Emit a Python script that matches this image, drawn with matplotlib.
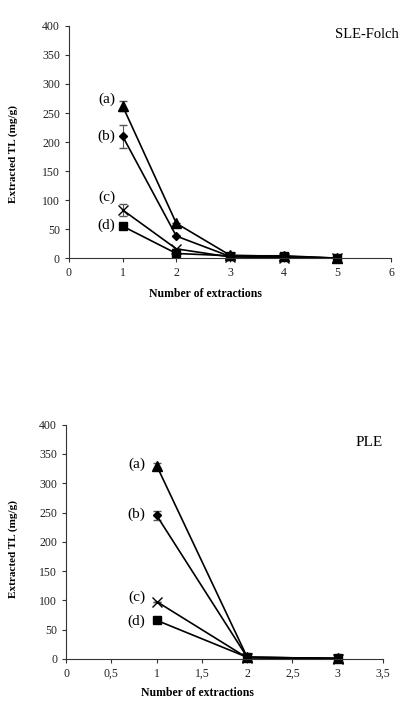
import matplotlib
matplotlib.use("Agg")
import matplotlib.pyplot as plt

plt.rcParams['font.family'] = ['Liberation Serif', 'DejaVu Serif']

# SLE-Folch panel
sle_x = [1, 2, 3, 4, 5]
sle_a = [262, 60, 5, 3, 0]
sle_b = [210, 38, 3, 2, 0]
sle_c = [83, 16, 2, 1, 0]
sle_d = [55, 8, 4, 4, 0]
sle_a_err = [8, 0, 0, 0, 0]
sle_b_err = [20, 0, 0, 0, 0]
sle_c_err = [10, 0, 0, 0, 0]
sle_d_err = [3, 0, 0, 0, 0]

# PLE panel
ple_x = [1, 2, 3]
ple_a = [330, 3, 1]
ple_b = [245, 3, 1]
ple_c = [98, 2, 0]
ple_d = [66, 3, 1]
ple_a_err = [4, 0, 0]
ple_b_err = [7, 0, 0]
ple_c_err = [0, 0, 0]
ple_d_err = [0, 0, 0]

labels = ['(a)', '(b)', '(c)', '(d)']
markers = ['^', 'D', 'x', 's']
msizes = [6.5, 4.5, 6.5, 5.5]

fig = plt.figure(figsize=(4.01, 7.21), dpi=100)
ax1 = fig.add_axes([0.172, 0.642, 0.803, 0.322])
ax2 = fig.add_axes([0.165, 0.086, 0.790, 0.325])


def draw(ax, x, series, errs, label_pos):
    for ys, es, m, ms, lab, lp in zip(series, errs, markers, msizes, labels, label_pos):
        ax.errorbar(x, ys, yerr=es, color='black', marker=m, markersize=ms,
                    linewidth=1.2, ecolor='#555555', elinewidth=0.8, capsize=3,
                    markeredgewidth=1.0, clip_on=False)
        ax.text(lp[0], lp[1], lab, fontsize=11, ha='right', va='center')
    ax.set_ylim(0, 400)
    ax.set_yticks(range(0, 401, 50))
    for s in ['top', 'right']:
        ax.spines[s].set_visible(False)
    for s in ['left', 'bottom']:
        ax.spines[s].set_color('#333333')
        ax.spines[s].set_linewidth(0.8)
    ax.tick_params(labelsize=8.5, length=3, width=0.8, colors='#333333',
                   labelcolor='#222222')
    ax.set_ylabel('Extracted TL (mg/g)', fontsize=8, fontweight='bold')
    ax.set_xlabel('Number of extractions', fontsize=8.5, fontweight='bold')
    ax.xaxis.label.set_va('center')
    ax.yaxis.label.set_va('center')


draw(ax1, sle_x, [sle_a, sle_b, sle_c, sle_d],
     [sle_a_err, sle_b_err, sle_c_err, sle_d_err],
     [(0.86, 274), (0.86, 210), (0.87, 104), (0.86, 57)])
ax1.set_xlim(0, 6)
ax1.set_xticks(range(0, 7))
ax1.yaxis.set_label_coords(-0.174, 0.45)
ax1.xaxis.set_label_coords(0.424, -0.155)
# the reference cuts this off at the right edge; keep it just inside
fig.text(399 / 401, 1 - 35 / 721, 'SLE-Folch', fontsize=10.5, ha='right', va='center')

draw(ax2, ple_x, [ple_a, ple_b, ple_c, ple_d],
     [ple_a_err, ple_b_err, ple_c_err, ple_d_err],
     [(0.87, 332), (0.87, 247), (0.88, 105), (0.87, 65)])
ax2.set_xlim(0, 3.5)
ax2.set_xticks([0, 0.5, 1, 1.5, 2, 2.5, 3, 3.5])
ax2.set_xticklabels(['0', '0,5', '1', '1,5', '2', '2,5', '3', '3,5'])
ax2.yaxis.set_label_coords(-0.167, 0.47)
ax2.xaxis.set_label_coords(0.415, -0.145)
ax2.text(1.0, 0.923, 'PLE', transform=ax2.transAxes, fontsize=11,
         ha='right', va='center')

fig.savefig('out.png', dpi=100)
